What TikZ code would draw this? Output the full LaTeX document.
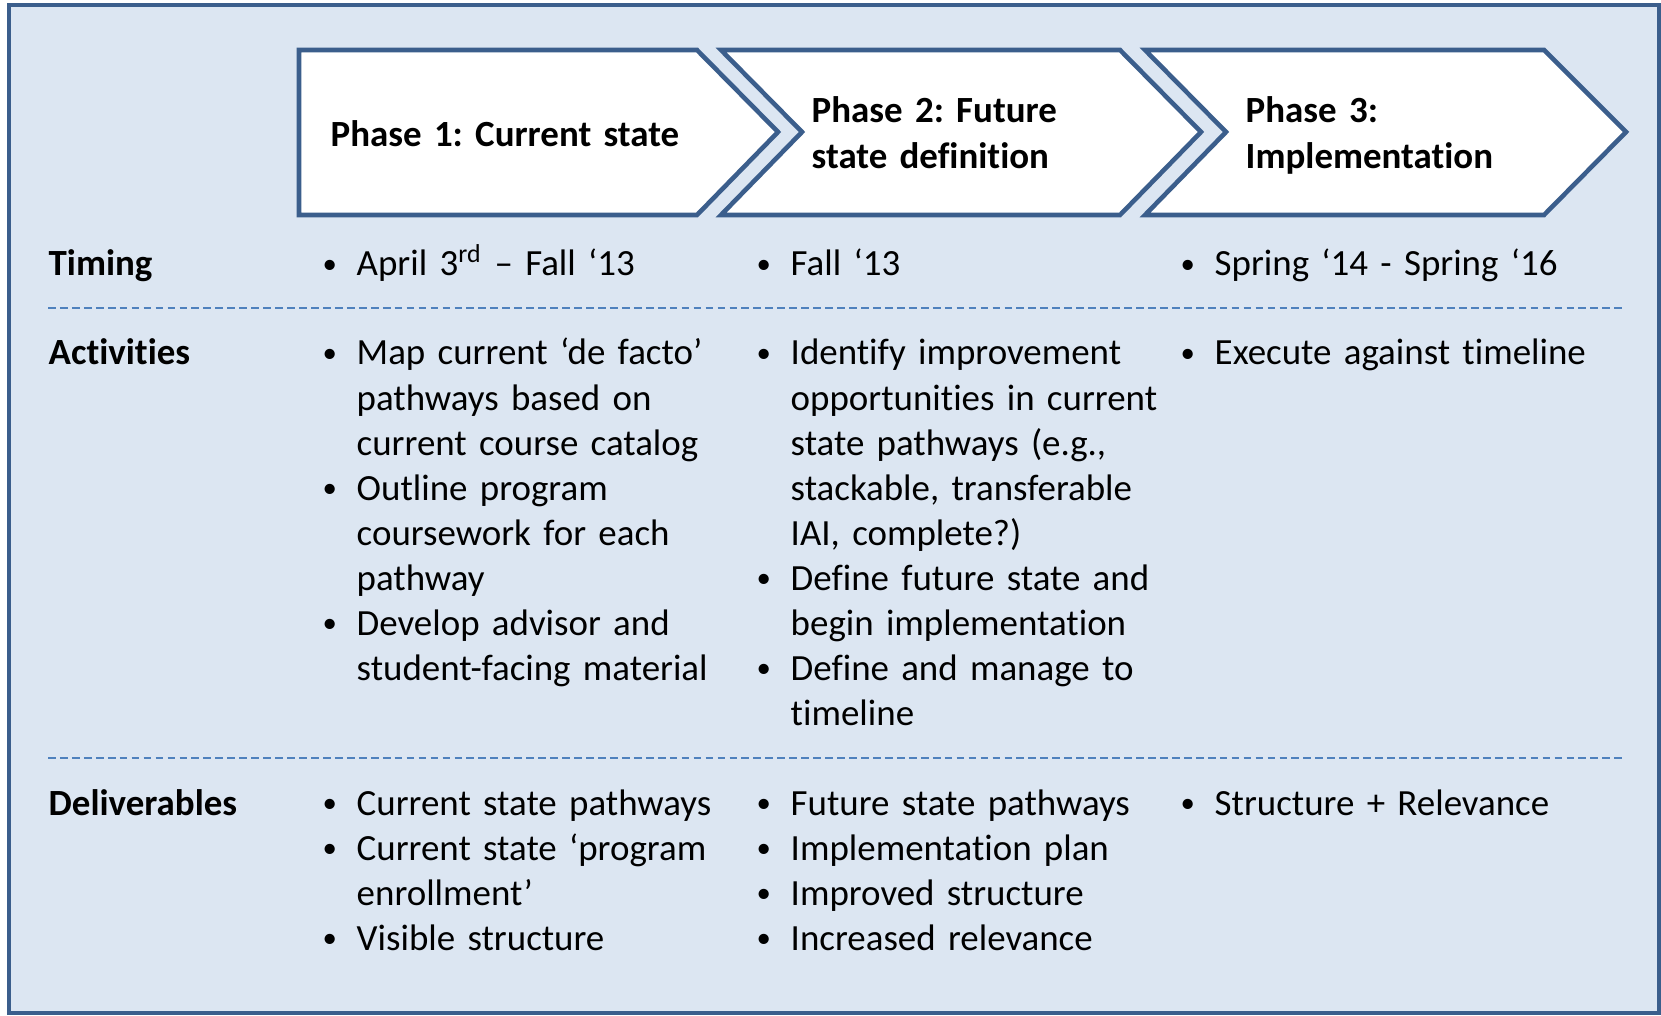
\documentclass[tikz,border=0pt]{standalone}
\usepackage{fontspec}
\setmainfont{Carlito}[Ligatures=NoCommon]
\definecolor{panel}{HTML}{DCE6F2}
\definecolor{edge}{HTML}{3B5E8C}
\definecolor{rule}{HTML}{4F81BD}
\tikzset{
  phase/.style={draw=edge,line width=1.3pt,fill=white,line join=miter},
  cell/.style={anchor=base west,inner sep=0pt,align=left,text width=4.4cm,
    font=\fontsize{10.5}{12.8}\selectfont},
  head/.style={cell,font=\fontsize{10.5}{12.8}\selectfont\bfseries},
  sep/.style={rule,line width=0.7pt,dash pattern=on 2.2pt off 1.2pt},
}
\newcommand{\bitem}{\makebox[3.4mm][l]{\raisebox{0.8pt}{\scalebox{0.78}{\textbullet}}}}
\newcommand{\bcont}{\hspace*{3.4mm}}
\frenchspacing

\begin{document}
\begin{tikzpicture}[x=0.01cm,y=-0.01cm]
  \useasboundingbox (0,0) rectangle (1661,1016);
  \draw[edge,line width=1.2pt,fill=panel] (9,5) rectangle (1659,1013);
  % columns
  \pgfmathsetmacro{\cone}{322};
  \pgfmathsetmacro{\ctwo}{756};
  \pgfmathsetmacro{\cthr}{1180};
  % chevrons
  \draw[phase] (299,50) -- (697,50) -- (778,132) -- (697,215) -- (299,215) -- cycle;
  \draw[phase] (721,50) -- (1120,50) -- (1201,132) -- (1120,215) -- (721,215) -- (802,132) -- cycle;
  \draw[phase] (1145,50) -- (1544,50) -- (1626,132) -- (1544,215) -- (1145,215) -- (1226,132) -- cycle;
  \node[head] (p1) at (330,147) {Phase 1: Current state};
  \node[head] (p2) at (811,123) {Phase 2: Future\\state definition};
  \node[head] (p3) at (1245,123) {Phase 3:\\Implementation};
  % row labels
  \node[head] (timing) at (48,276) {Timing};
  \node[head] (activ) at (48,365) {Activities};
  \node[head] (deliv) at (48,815) {Deliverables};
  % separators
  \draw[sep] (48,308) -- (1624,308);
  \draw[sep] (48,758) -- (1624,758);
  % timing
  \node[cell] (t1) at (\cone,276) {\bitem April 3\textsuperscript{rd} – Fall ‘13};
  \node[cell] (t2) at (\ctwo,276) {\bitem Fall ‘13};
  \node[cell] (t3) at (\cthr,276) {\bitem Spring ‘14 - Spring ‘16};
  % activities
  \node[cell] (a1) at (\cone,365) {\bitem Map current ‘de facto’\\
    \bcont pathways based on\\
    \bcont current course catalog\\
    \bitem Outline program\\
    \bcont coursework for each\\
    \bcont pathway\\
    \bitem Develop advisor and\\
    \bcont student-facing material};
  \node[cell] (a2) at (\ctwo,365) {\bitem Identify improvement\\
    \bcont opportunities in current\\
    \bcont state pathways (e.g.,\\
    \bcont stackable, transferable\\
    \bcont IAI, complete?)\\
    \bitem Define future state and\\
    \bcont begin implementation\\
    \bitem Define and manage to\\
    \bcont timeline};
  \node[cell] (a3) at (\cthr,365) {\bitem Execute against timeline};
  % deliverables
  \node[cell] (d1) at (\cone,815) {\bitem Current state pathways\\
    \bitem Current state ‘program\\
    \bcont enrollment’\\
    \bitem Visible structure};
  \node[cell] (d2) at (\ctwo,815) {\bitem Future state pathways\\
    \bitem Implementation plan\\
    \bitem Improved structure\\
    \bitem Increased relevance};
  \node[cell] (d3) at (\cthr,815) {\bitem Structure + Relevance};
\end{tikzpicture}
\end{document}
